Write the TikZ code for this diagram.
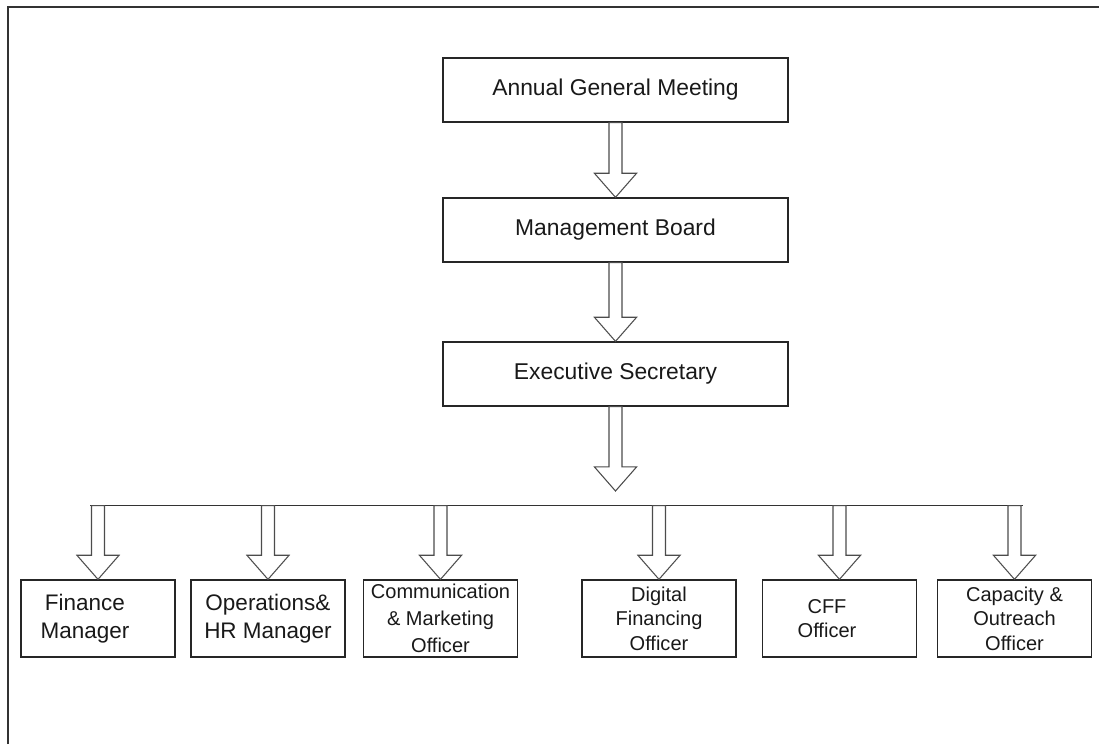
\documentclass[tikz,border=0pt]{standalone}
\usepackage{fontspec}
\setmainfont{Liberation Sans}
\usetikzlibrary{calc}

\tikzset{
  unit/.style={draw=black!85,line width=.75pt,inner sep=0pt,align=center,text=black!90},
  topunit/.style={unit,minimum width=6.9cm,minimum height=1.28cm,font=\fontsize{13}{16}\selectfont},
  subunit/.style={unit,minimum width=3.08cm,minimum height=1.54cm,font=\fontsize{11.4}{14}\selectfont},
  bigsub/.style={subunit,font=\fontsize{12.8}{16}\selectfont},
  hollow/.style={draw=black!70,fill=white,line width=.6pt,line join=miter},
}
\newcommand{\fatarrow}[2]{%
  \draw[hollow] let \p1=(#1), \p2=(#2) in
    (\x1-3.7pt,\y1) -- (\x1+3.7pt,\y1) -- (\x1+3.7pt,\y2+13.7pt)
    -- (\x1+12pt,\y2+13.7pt) -- (\x1,\y2) -- (\x1-12pt,\y2+13.7pt)
    -- (\x1-3.7pt,\y2+13.7pt) -- cycle;}

\begin{document}
\begin{tikzpicture}[x=0.02cm,y=0.02cm]
  \useasboundingbox (0,0) rectangle (1099,744);
  \draw[black!80,line width=.75pt] (8,0) -- (8,737) -- (1099,737);
  % top chain
  \node[topunit] (agm) at (615.5,654) {Annual General Meeting};
  \node[topunit] (board) at (615.5,514) {Management Board};
  \node[topunit] (sec) at (615.5,370) {Executive Secretary};
  % officers
  \node[bigsub] (fin) at (98,125.5) {Finance\hspace*{.52cm}\\Manager\hspace*{.52cm}};
  \node[bigsub] (ops) at (268,125.5) {Operations\&\\HR Manager};
  \node[subunit,font=\fontsize{11.4}{15.3}\selectfont] (comm) at (440.5,125.5) {Communication\\\& Marketing\\Officer};
  \node[subunit] (dig) at (659,125.5) {Digital\\Financing\\Officer};
  \node[subunit] (cff) at (839.5,125.5) {CFF\hspace*{.5cm}\\Officer\hspace*{.5cm}};
  \node[subunit] (cap) at (1014.5,125.5) {Capacity \&\\Outreach\\Officer};
  % bus
  \coordinate (split) at (615.5,253);
  \coordinate (busl) at (90,238.4);
  \coordinate (busr) at (1023,238.4);
  \draw[black!80,line width=.75pt] (busl) -- (busr);
  \fatarrow{agm.south}{board.north}
  \fatarrow{board.south}{sec.north}
  \fatarrow{sec.south}{split}
  \foreach \who in {fin,ops,comm,dig,cff,cap}{
    \coordinate (tap-\who) at (\who.north |- busl);
    \fatarrow{tap-\who}{\who.north}
  }
\end{tikzpicture}
\end{document}
